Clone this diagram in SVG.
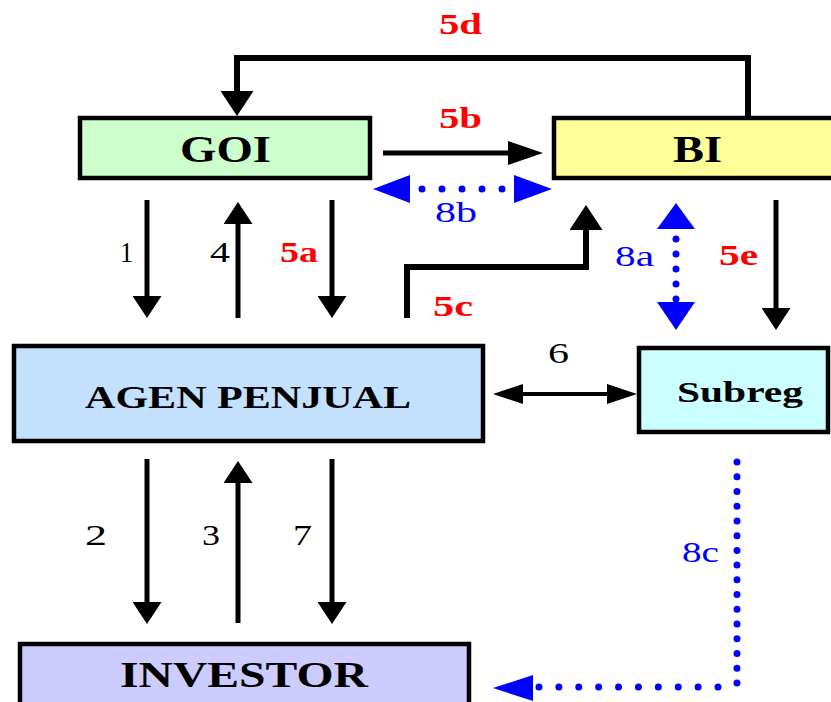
<svg xmlns="http://www.w3.org/2000/svg" width="831" height="702" viewBox="0 0 831 702">
<style>
.box{stroke:#000;stroke-width:4.5}
.bt{font-family:"Liberation Serif","Times New Roman",serif;font-weight:bold;fill:#000}
.ln{fill:none;stroke:#000;stroke-width:5}
.thk{stroke-width:6}
.dot{fill:none;stroke:#0000FF;stroke-width:7;stroke-linecap:round}
.bh{fill:#0000FF}
.red{font-family:"Liberation Serif","Times New Roman",serif;font-weight:bold;font-size:29px;fill:#FF0000}
.num{font-family:"Liberation Serif","Times New Roman",serif;font-size:29px;fill:#000}
.blu{font-family:"Liberation Serif","Times New Roman",serif;font-size:29px;fill:#0000FF}
</style>
<defs>
<marker id="mA" viewBox="0 0 22 29" refX="8" refY="14.5" markerWidth="22" markerHeight="29" orient="auto" markerUnits="userSpaceOnUse"><path d="M0,0 L22,14.5 L0,29z" fill="#000"/></marker>
<marker id="mB" viewBox="0 0 25 33" refX="8" refY="16.5" markerWidth="25" markerHeight="33" orient="auto" markerUnits="userSpaceOnUse"><path d="M0,0 L25,16.5 L0,33z" fill="#000"/></marker>
<marker id="mC" viewBox="0 0 35 24" refX="10" refY="12" markerWidth="35" markerHeight="24" orient="auto" markerUnits="userSpaceOnUse"><path d="M0,0 L35,12 L0,24z" fill="#000"/></marker>
<marker id="mD" viewBox="0 0 30 20" refX="10" refY="10" markerWidth="30" markerHeight="20" orient="auto-start-reverse" markerUnits="userSpaceOnUse"><path d="M0,0 L30,10 L0,20z" fill="#000"/></marker>
</defs>
<rect width="831" height="702" fill="#fff"/>
<g id="connectors">
<path class="ln thk" d="M748,116 V58 H237 V99" marker-end="url(#mB)"/>
<path class="ln" d="M383,153 H518" marker-end="url(#mC)"/>
<path class="ln" d="M147,200 V304" marker-end="url(#mA)"/>
<path class="ln" d="M238,318 V216" marker-end="url(#mA)"/>
<path class="ln" d="M332,200 V304" marker-end="url(#mA)"/>
<path class="ln thk" d="M407,318 V267 H586 V222" marker-end="url(#mB)"/>
<path class="ln" d="M776,200 V316" marker-end="url(#mA)"/>
<path class="ln" style="stroke-width:4" d="M513,394 H617" marker-start="url(#mD)" marker-end="url(#mD)"/>
<path class="ln" d="M147,459 V610" marker-end="url(#mA)"/>
<path class="ln" d="M238,623 V475" marker-end="url(#mA)"/>
<path class="ln" d="M332,459 V610" marker-end="url(#mA)"/>
<path class="dot" d="M422,189 H504" stroke-dasharray="0 20"/>
<polygon class="bh" points="373,189 410,175 410,203"/>
<polygon class="bh" points="552,189 514,175 514,203"/>
<path class="dot" d="M676,239 V301" stroke-dasharray="0 15"/>
<polygon class="bh" points="676,203 657,229 695,229"/>
<polygon class="bh" points="676,330 657,302 695,302"/>
<path class="dot" d="M737,462 V685" stroke-dasharray="0 14.73"/>
<path class="dot" d="M718,687 H536" stroke-dasharray="0 19.89"/>
<polygon class="bh" points="493,688 533,675 533,701"/>
</g>
<g id="labels">
<text class="red" x="439" y="34" textLength="43" lengthAdjust="spacingAndGlyphs">5d</text>
<text class="red" x="439" y="128" textLength="43" lengthAdjust="spacingAndGlyphs">5b</text>
<text class="blu" x="435" y="222" textLength="42" lengthAdjust="spacingAndGlyphs">8b</text>
<text class="num" x="120" y="262" textLength="13" lengthAdjust="spacingAndGlyphs">1</text>
<text class="num" x="210" y="262" textLength="20" lengthAdjust="spacingAndGlyphs">4</text>
<text class="red" x="280" y="262" textLength="38" lengthAdjust="spacingAndGlyphs">5a</text>
<text class="red" x="433" y="316" textLength="40" lengthAdjust="spacingAndGlyphs">5c</text>
<text class="blu" x="615" y="266" textLength="39" lengthAdjust="spacingAndGlyphs">8a</text>
<text class="red" x="719" y="265" textLength="39" lengthAdjust="spacingAndGlyphs">5e</text>
<text class="num" x="548" y="363" textLength="21" lengthAdjust="spacingAndGlyphs">6</text>
<text class="num" x="85" y="545" textLength="22" lengthAdjust="spacingAndGlyphs">2</text>
<text class="num" x="202" y="545" textLength="18" lengthAdjust="spacingAndGlyphs">3</text>
<text class="num" x="293" y="545" textLength="19" lengthAdjust="spacingAndGlyphs">7</text>
<text class="blu" x="682" y="562" textLength="37" lengthAdjust="spacingAndGlyphs">8c</text>
</g>
<g id="node-goi">
<rect class="box" x="80" y="118" width="290" height="60" fill="#CCFFCC"/>
<text class="bt" x="180" y="162" font-size="37" textLength="91" lengthAdjust="spacingAndGlyphs">GOI</text>
</g>
<g id="node-bi">
<rect class="box" x="554" y="118" width="300" height="60" fill="#FFFF99"/>
<text class="bt" x="673" y="162" font-size="37" textLength="49" lengthAdjust="spacingAndGlyphs">BI</text>
</g>
<g id="node-agen">
<rect class="box" x="14" y="346" width="469" height="95" fill="#C4E0FF"/>
<text class="bt" x="85" y="408" font-size="32" textLength="326" lengthAdjust="spacingAndGlyphs">AGEN PENJUAL</text>
</g>
<g id="node-subreg">
<rect class="box" x="639" y="348" width="189" height="84" fill="#CCFFFF"/>
<text class="bt" x="677" y="402" font-size="30" textLength="126" lengthAdjust="spacingAndGlyphs">Subreg</text>
</g>
<g id="node-investor">
<rect class="box" x="20" y="644" width="449" height="80" fill="#CCCCFF"/>
<text class="bt" x="120" y="687" font-size="36" textLength="248" lengthAdjust="spacingAndGlyphs">INVESTOR</text>
</g>
</svg>
